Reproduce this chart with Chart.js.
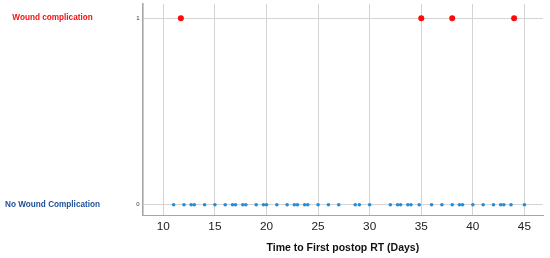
<!DOCTYPE html>
<html>
<head>
<meta charset="utf-8">
<script src="https://cdn.jsdelivr.net/npm/chart.js@4/dist/chart.umd.min.js"></script>
<style>
  body { margin: 0; background: #fff; }
</style>
</head>
<body>
<canvas id="myChart" width="550" height="258"></canvas>
<script>
const groupLabels = ["No Wound Complication", "Wound complication"];
const xTicks = [10, 15, 20, 25, 30, 35, 40, 45];
const woundDays = [11.7, 35, 38, 44];
const noWoundDays = [
  11, 12, 12.7, 13, 14, 15, 16, 16.7, 17, 17.7, 18, 19, 19.7, 20,
  21, 22, 22.7, 23, 23.7, 24, 25, 26, 27, 28.6, 29, 30,
  32, 32.7, 33, 33.7, 34, 34.8, 36, 37, 38, 38.7, 39, 40, 41, 42,
  42.7, 43, 43.7, 45,
];

const fontFamily = "'Liberation Sans', Arial, sans-serif";

new Chart(document.getElementById("myChart"), {
  type: "scatter",
  data: {
    datasets: [
      {
        label: groupLabels[1],
        data: woundDays.map((d) => ({ x: d, y: 1 })),
        pointRadius: 3,
        pointBackgroundColor: "#ff0a0a",
        pointBorderWidth: 0,
      },
      {
        label: groupLabels[0],
        data: noWoundDays.map((d) => ({ x: d, y: 0 })),
        pointRadius: 1.8,
        pointBackgroundColor: "#1e8fe0",
        pointBorderWidth: 0,
      },
    ],
  },
  options: {
    responsive: false,
    animation: false,
    layout: { padding: { top: 3, right: 7, bottom: 0, left: 0 } },
    plugins: {
      legend: { display: false },
      tooltip: { enabled: false },
    },
    scales: {
      x: {
        type: "linear",
        min: 8,
        max: 46.8,
        afterBuildTicks: (scale) => {
          scale.ticks = xTicks.map((v) => ({ value: v }));
        },
        afterFit: (scale) => {
          scale.height = 43;
        },
        grid: { color: "#d4d4d4", drawTicks: false },
        border: { color: "#a6a6a6", width: 1 },
        ticks: {
          padding: 4.5,
          color: "#222",
          font: { family: fontFamily, size: 11.8 },
        },
        title: {
          display: true,
          text: "Time to First postop RT (Days)",
          color: "#111",
          font: { family: fontFamily, size: 10.5, weight: "bold" },
          padding: { top: 0, bottom: 3.2 },
        },
      },
      y: {
        type: "linear",
        position: "left",
        weight: 0,
        min: -0.055,
        max: 1.076,
        afterBuildTicks: (scale) => {
          scale.ticks = [{ value: 0 }, { value: 1 }];
        },
        afterFit: (scale) => {
          scale.width = 9.7;
          scale.paddingTop = 0;
          scale.paddingBottom = 0;
        },
        grid: { color: "#d4d4d4", drawTicks: false },
        border: { color: "#a6a6a6", width: 1.6 },
        ticks: {
          padding: 3,
          color: "#333",
          font: { family: fontFamily, size: 6 },
        },
      },
      yCat: {
        type: "linear",
        position: "left",
        weight: 1,
        min: -0.055,
        max: 1.076,
        afterBuildTicks: (scale) => {
          scale.ticks = [{ value: 0 }, { value: 1 }];
        },
        afterFit: (scale) => {
          scale.width = 133;
          scale.paddingTop = 0;
          scale.paddingBottom = 0;
        },
        grid: { display: false, drawTicks: false },
        border: { display: false },
        ticks: {
          crossAlign: "center",
          padding: 33,
          callback: (value) => groupLabels[value],
          color: (ctx) => (ctx.tick.value === 1 ? "#f21010" : "#1c4f9c"),
          font: { family: fontFamily, size: 8.2, weight: "bold" },
        },
      },
    },
  },
});
</script>
</body>
</html>
